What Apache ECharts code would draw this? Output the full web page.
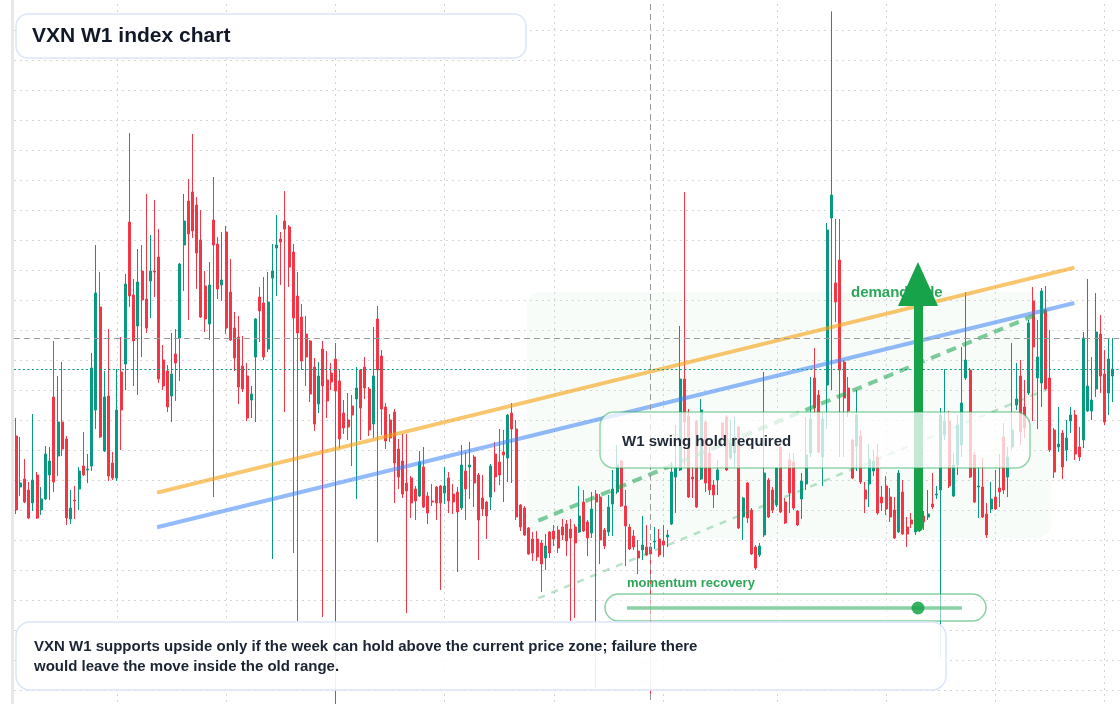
<!DOCTYPE html>
<html>

<head>
  <meta http-equiv="Content-Type" content="text/html; charset=utf-8" />
  <title>VXN W1 index chart</title>
  <script src="https://cdn.jsdelivr.net/npm/echarts@6/dist/echarts.min.js"></script>
  <style>
    html, body { margin: 0; padding: 0; background: #fff; }
    #chart { width: 1120px; height: 704px; }
  </style>
</head>

<body>
  <div id="chart"></div>

  <script type="text/javascript">
    "use strict"

    // weekly candles, first week 2020-07-19
    const firstWeek = Date.UTC(2020, 6, 19)

    const opens = [
      23.2, 20.65, 21.05, 20.5, 19.85, 21.25, 19.5, 20.05, 21.25, 25.15,
      22.2, 23.9, 23.05, 19.05, 20.0, 20.55, 21.7, 21.5, 21.7, 24.5,
      29.65, 22.45, 25.2, 21.85, 21.1, 26.4, 26.8, 33.9, 30.25, 28.7,
      31.45, 30.05, 30.95, 31.45, 32.15, 27.0, 26.45, 25.2, 27.3, 28.1,
      32.75, 34.95, 35.4, 34.75, 33.0, 30.7, 28.8, 34.0, 32.8, 30.75,
      33.4, 30.4, 28.6, 28.15, 26.7, 26.2, 25.0, 27.15, 30.15, 29.85,
      27.55, 31.1, 32.6, 33.05, 33.95, 33.65, 32.4, 30.2, 29.15, 28.3,
      27.95, 26.65, 24.8, 27.55, 26.0, 26.35, 27.05, 25.95, 24.35, 24.0,
      24.7, 25.05, 26.5, 26.65, 25.55, 23.8, 29.05, 27.2, 24.65, 24.0,
      24.4, 22.55, 21.95, 20.85, 21.1, 20.55, 20.2, 21.65, 20.2, 19.95,
      20.65, 20.7, 20.35, 21.1, 20.3, 20.4, 19.6, 21.45, 21.65, 22.15,
      21.25, 20.1, 19.9, 20.15, 22.3, 21.9, 22.4, 22.1, 24.35, 23.55,
      19.75, 19.6, 18.6, 18.05, 18.05, 17.85, 17.1, 18.4, 18.45, 18.5,
      18.65, 18.8, 18.55, 18.65, 18.4, 19.9, 18.9, 18.35, 20.3, 20.15,
      18.5, 18.4, 19.8, 20.4, 21.95, 19.7, 18.65, 18.2, 17.45, 17.5,
      17.65, 17.65, 17.9, 18.05, 17.95, 18.15, 18.8, 21.15, 21.5, 26.05,
      24.2, 21.15, 23.95, 21.05, 23.9, 22.35, 20.75, 21.0, 23.85, 24.15,
      22.1, 22.35, 23.65, 19.15, 20.85, 19.5, 17.65, 17.25, 18.25, 21.0,
      20.5, 19.75, 22.65, 19.9, 22.0, 21.9, 19.45, 20.05, 20.8, 22.35,
      26.1, 25.25, 22.15, 25.75, 34.1, 30.85, 32.0, 26.9, 25.6, 23.0,
      22.7, 23.2, 20.5, 20.8, 21.45, 22.15, 20.15, 20.7, 20.15, 19.5,
      18.4, 20.4, 18.65, 19.0, 18.4, 19.45, 19.2, 19.15, 19.8, 20.25,
      20.5, 23.25, 23.95, 20.2, 21.75, 22.75, 26.1, 26.5, 22.25, 20.65,
      20.65, 19.3, 19.55, 20.15, 20.6, 23.15, 21.15, 22.65, 24.75, 26.2,
      24.65, 25.35, 29.95, 26.1, 25.85, 29.5, 26.1, 23.5, 22.65, 23.35,
      22.5, 23.95, 24.25, 22.65, 23.0, 24.45, 24.45, 25.55, 28.3, 26.3,
      25.35, 26.2
    ]

    const closes = [
      19.5, 20.85, 19.9, 19.1, 21.0, 19.1, 20.05, 22.3, 21.95, 20.9,
      23.9, 22.55, 19.1, 19.6, 19.95, 21.45, 21.25, 21.55, 26.6, 30.35,
      23.15, 25.15, 21.2, 21.1, 24.5, 24.5, 30.8, 30.2, 27.95, 30.9,
      30.0, 28.6, 31.45, 31.4, 26.05, 25.7, 24.65, 26.3, 26.85, 31.8,
      33.95, 33.3, 33.45, 32.35, 29.15, 29.05, 30.75, 32.75, 30.55, 31.0,
      28.6, 28.0, 27.1, 25.65, 25.55, 24.1, 25.3, 29.05, 29.45, 27.15,
      29.9, 31.45, 32.75, 32.9, 33.55, 31.65, 29.1, 28.35, 26.95, 27.15,
      25.3, 23.8, 26.2, 25.7, 24.95, 25.9, 25.45, 23.05, 23.6, 23.65,
      24.25, 25.6, 24.6, 25.6, 23.5, 26.2, 26.5, 24.55, 22.95, 23.1,
      21.85, 21.15, 20.3, 20.45, 19.85, 19.95, 21.9, 19.65, 19.35, 19.9,
      19.85, 19.85, 20.7, 19.95, 19.9, 19.4, 21.75, 20.55, 21.75, 20.85,
      19.0, 19.55, 19.2, 21.7, 21.15, 21.25, 22.25, 24.25, 23.55, 19.15,
      18.65, 18.25, 17.3, 17.35, 17.15, 16.8, 17.7, 17.35, 18.05, 17.6,
      18.25, 17.95, 18.1, 17.85, 19.2, 18.45, 18.1, 19.55, 19.9, 18.0,
      17.7, 19.65, 20.55, 21.75, 19.7, 18.7, 17.55, 17.65, 17.1, 17.75,
      17.25, 17.3, 17.95, 17.25, 17.75, 18.25, 21.4, 21.65, 26.05, 23.9,
      20.15, 21.05, 19.65, 24.5, 20.85, 20.5, 20.25, 21.5, 23.15, 21.5,
      22.85, 23.15, 18.6, 20.1, 19.1, 17.3, 16.6, 17.7, 21.35, 19.15,
      19.5, 21.6, 19.4, 18.85, 20.35, 19.6, 18.75, 20.95, 22.25, 24.05,
      24.6, 22.4, 24.05, 33.5, 35.25, 29.9, 26.5, 25.1, 24.45, 21.1,
      24.25, 20.9, 20.05, 22.05, 21.95, 19.35, 19.85, 19.55, 19.15, 18.1,
      21.35, 18.3, 18.3, 18.8, 19.0, 18.5, 18.9, 19.3, 19.65, 20.3,
      24.25, 23.95, 20.7, 21.75, 23.75, 24.85, 27.0, 21.15, 19.9, 20.7,
      19.15, 18.25, 20.05, 19.55, 20.4, 20.5, 22.15, 23.5, 25.05, 23.4,
      23.6, 28.85, 27.65, 27.15, 30.45, 25.55, 22.5, 21.4, 22.8, 21.65,
      23.1, 24.25, 22.3, 22.15, 28.1, 25.7, 25.0, 28.4, 26.2, 23.9,
      27.05, 26.55
    ]

    const lows = [
      19.3, 20.2, 19.85, 19.05, 19.45, 19.05, 19.25, 20.0, 20.0, 20.4,
      21.2, 22.2, 18.75, 18.8, 19.05, 19.5, 21.2, 20.85, 21.45, 23.55,
      23.1, 22.4, 20.95, 21.0, 20.95, 22.5, 25.5, 29.65, 25.7, 25.25,
      27.15, 28.35, 29.1, 30.15, 25.85, 25.5, 24.4, 23.9, 24.95, 25.95,
      30.45, 29.0, 33.1, 30.55, 29.1, 28.4, 28.0, 20.15, 30.05, 29.95,
      28.3, 27.95, 26.45, 24.8, 25.4, 23.95, 24.1, 23.9, 27.9, 27.0,
      27.4, 17.05, 30.2, 30.75, 24.4, 30.65, 17.35, 13.95, 26.5, 25.7,
      24.9, 23.45, 24.35, 14.15, 24.1, 25.5, 9.4, 22.6, 23.3, 23.0,
      21.7, 20.05, 23.0, 25.05, 23.2, 23.1, 17.9, 23.25, 22.55, 22.9,
      19.85, 20.55, 20.1, 14.35, 19.1, 19.0, 20.15, 19.6, 18.8, 19.7,
      19.0, 15.5, 19.8, 19.35, 19.3, 16.4, 19.5, 19.0, 20.05, 19.65,
      17.0, 19.2, 18.05, 19.5, 20.4, 20.75, 19.9, 20.9, 20.85, 19.0,
      18.45, 18.2, 17.25, 16.95, 16.95, 15.4, 16.5, 17.1, 17.7, 17.35,
      18.0, 17.2, 13.95, 14.1, 18.35, 18.4, 17.2, 18.1, 10.6, 16.8,
      17.55, 18.2, 18.2, 20.3, 19.65, 16.7, 17.5, 17.5, 16.3, 17.0,
      17.2, 10.15, 17.55, 17.15, 17.15, 17.65, 18.75, 19.35, 21.45, 21.65,
      20.1, 20.1, 19.6, 21.0, 20.4, 20.25, 19.6, 20.25, 22.65, 21.45,
      22.0, 21.65, 18.55, 18.0, 18.85, 17.25, 16.5, 17.15, 18.15, 19.1,
      19.35, 19.65, 19.35, 18.8, 19.35, 19.5, 18.7, 19.05, 20.5, 22.15,
      24.35, 22.35, 20.7, 23.55, 25.5, 28.9, 22.15, 22.15, 24.15, 21.05,
      21.45, 20.8, 19.35, 19.65, 21.2, 19.25, 19.45, 19.25, 18.9, 18.05,
      18.35, 18.25, 17.65, 18.6, 18.25, 18.4, 18.5, 19.0, 19.55, 20.05,
      12.1, 23.0, 20.6, 20.15, 21.25, 22.15, 26.0, 21.1, 19.85, 19.1,
      19.1, 18.1, 19.35, 19.5, 19.65, 20.3, 20.15, 22.5, 24.5, 22.75,
      23.1, 25.25, 23.95, 23.55, 24.65, 25.5, 22.4, 21.1, 22.4, 21.05,
      21.95, 23.35, 22.0, 21.95, 22.6, 24.4, 24.0, 25.15, 25.35, 23.75,
      24.25, 24.9
    ]

    const highs = [
      24.1, 23.15, 22.05, 20.9, 24.3, 21.4, 20.65, 22.7, 22.65, 27.95,
      26.2, 26.9, 23.2, 20.5, 20.7, 21.65, 23.4, 22.3, 27.35, 32.75,
      31.4, 26.45, 28.55, 22.4, 26.55, 28.15, 31.3, 38.35, 31.05, 32.55,
      32.75, 35.3, 33.25, 35.0, 33.55, 27.75, 26.75, 28.35, 28.55, 31.85,
      35.3, 36.05, 38.3, 35.15, 34.5, 31.45, 31.9, 36.15, 33.15, 33.4,
      33.7, 32.05, 29.4, 29.2, 28.2, 26.85, 25.7, 29.1, 30.65, 31.15,
      31.4, 32.8, 34.25, 33.4, 35.45, 33.75, 32.8, 31.4, 29.8, 29.2,
      28.0, 27.1, 26.9, 27.95, 27.45, 26.85, 27.85, 26.5, 25.0, 25.35,
      25.25, 26.65, 26.55, 27.15, 25.65, 28.65, 29.7, 27.5, 24.85, 24.3,
      24.55, 23.05, 23.3, 23.3, 21.2, 20.7, 22.45, 22.65, 20.4, 20.8,
      20.7, 20.75, 21.65, 21.4, 20.8, 20.65, 22.75, 22.4, 22.9, 22.25,
      21.35, 21.25, 19.95, 21.8, 22.9, 23.55, 23.5, 24.3, 24.85, 24.0,
      19.8, 19.7, 18.65, 18.4, 18.45, 18.0, 18.3, 18.45, 18.75, 18.7,
      19.05, 19.0, 19.05, 18.8, 20.7, 20.5, 19.0, 20.4, 20.5, 20.3,
      18.6, 20.25, 21.5, 22.75, 22.0, 20.5, 18.8, 18.5, 18.0, 19.2,
      18.75, 17.85, 18.65, 18.55, 18.75, 18.5, 21.9, 23.75, 28.7, 35.4,
      24.55, 21.65, 24.0, 25.05, 24.0, 22.65, 21.0, 22.0, 23.9, 24.25,
      24.0, 24.15, 23.7, 20.15, 20.9, 19.6, 17.75, 17.85, 26.4, 21.1,
      20.65, 21.65, 22.7, 20.1, 22.35, 22.35, 19.5, 21.35, 24.15, 26.15,
      27.6, 25.5, 24.35, 33.85, 44.43, 34.05, 34.05, 27.0, 26.15, 23.05,
      25.5, 23.5, 20.9, 22.8, 22.5, 22.8, 20.7, 21.2, 20.6, 20.15,
      21.5, 21.0, 19.15, 19.35, 19.5, 19.75, 19.45, 20.5, 21.35, 20.7,
      24.6, 26.55, 24.45, 22.35, 24.25, 27.65, 30.4, 26.6, 22.4, 21.65,
      22.1, 19.85, 20.9, 21.5, 22.3, 23.85, 22.65, 27.85, 26.85, 27.0,
      26.0, 29.0, 30.65, 29.0, 30.6, 30.7, 28.5, 23.6, 24.65, 23.5,
      24.0, 24.65, 24.5, 23.65, 28.4, 31.05, 27.15, 30.35, 29.25, 27.5,
      28.1, 28.1
    ]

    // drawn levels, [week index, value]
    const upperTrend = [[33.57, 20.37], [251.8, 31.62]]
    const lowerTrend = [[33.57, 18.64], [251.8, 29.85]]
    const channelTop = [[124.27, 18.97], [245.06, 29.47]]
    const channelBottom = [[124.27, 15.09], [245.06, 25.51]]
    const demandArrow = [[214.6, 18.65], [214.6, 30.8]]
    const crossWeek = 151
    const crossLevel = 28.1

    const weeks = opens.map((_, i) => new Date(firstWeek + i * 7 * 86400000))
    // first week of every half year gets a vertical grid line
    const halfYearStarts = []
    weeks.forEach((d, i) => {
      if (i > 0 && d.getUTCMonth() % 6 === 0 && weeks[i - 1].getUTCMonth() !== d.getUTCMonth()) {
        halfYearStarts.push(i)
      }
    })

    const candles = opens.map((o, i) => [i, o, closes[i], lows[i], highs[i]])
    const lastClose = closes[closes.length - 1]

    const font = '"Liberation Sans", Arial, Helvetica, sans-serif'
    const up = "#089981"
    const down = "#f23645"
    const green = "#16a34a"

    function seg(points, lineStyle) {
      return [{ coord: points[0], lineStyle: lineStyle }, { coord: points[1] }]
    }

    function markOnly(z, data, extra) {
      return {
        type: "line",
        data: [],
        silent: true,
        markLine: Object.assign({
          z: z,
          silent: true,
          symbol: ["none", "none"],
          label: { show: false },
          emphasis: { disabled: true },
          data: data
        }, extra || {})
      }
    }

    const myChart = echarts.init(document.getElementById("chart"))

    const option = {
      animation: false,
      grid: { left: 13.9, right: 0.7, top: 0, height: 720, containLabel: false, outerBoundsMode: "none" },
      xAxis: {
        type: "value",
        min: -0.5,
        max: opens.length + 0.5,
        axisLine: { show: false },
        axisTick: { show: false },
        axisLabel: { show: false },
        splitLine: { show: false }
      },
      yAxis: {
        type: "value",
        min: 9,
        max: 45,
        interval: 1.5,
        offset: 2,
        axisLine: { show: true, onZero: false, lineStyle: { color: "#e8e8e8", width: 3 } },
        axisTick: { show: false },
        axisLabel: { show: false },
        splitLine: {
          show: true,
          showMinLine: false,
          showMaxLine: false,
          lineStyle: { color: "#d4d4d4", width: 1, type: [2, 4] }
        }
      },
      series: [
        markOnly(1, halfYearStarts.map(i => ({ xAxis: i })), {
          lineStyle: { color: "#d4d4d4", width: 1, type: [2, 4] }
        }),
        {
          name: "VXN",
          type: "candlestick",
          z: 2,
          barWidth: 2.5,
          silent: true,
          itemStyle: {
            color: up,
            color0: down,
            borderColor: up,
            borderColor0: down,
            borderWidth: 1
          },
          data: candles
        },
        markOnly(3, [
          seg(upperTrend, { color: "rgba(245,158,11,0.6)", width: 4, type: "solid" }),
          seg(lowerTrend, { color: "rgba(59,130,246,0.55)", width: 4, type: "solid" }),
          seg(channelTop, { color: "rgba(22,163,74,0.55)", width: 4, type: [10, 7] }),
          seg(channelBottom, { color: "rgba(22,163,74,0.3)", width: 2.5, type: [7, 7] })
        ]),
        markOnly(4, [
          { xAxis: crossWeek, lineStyle: { color: "#9a9a9a", width: 1, type: [6, 4] } },
          { yAxis: crossLevel, lineStyle: { color: "#9a9a9a", width: 1, type: [6, 4] } },
          { yAxis: lastClose, lineStyle: { color: up, width: 1, type: [2, 2.5] } }
        ]),
        markOnly(6, [
          seg(demandArrow, { color: green, width: 9, type: "solid", cap: "round" })
        ], { symbol: ["none", "triangle"], symbolSize: [40, 44] })
      ],
      graphic: [
        {
          type: "rect", z: 0, silent: true,
          shape: { x: 527, y: 292, width: 524, height: 246, r: 14 },
          style: { fill: "rgba(22,163,74,0.035)" }
        },
        {
          type: "text", z: 5, silent: true,
          style: { text: "demand side", x: 851, y: 293, verticalAlign: "middle", font: "bold 15px " + font, fill: "#2ea65a" }
        },
        {
          type: "rect", z: 100, silent: true,
          shape: { x: 600, y: 412, width: 430, height: 56, r: 14 },
          style: { fill: "rgba(255,255,255,0.75)", stroke: "rgba(22,163,74,0.45)", lineWidth: 1.5 }
        },
        {
          type: "text", z: 101, silent: true,
          style: { text: "W1 swing hold required", x: 622, y: 442, verticalAlign: "middle", font: "bold 15px " + font, fill: "#1f2937" }
        },
        {
          type: "text", z: 101, silent: true,
          style: { text: "momentum recovery", x: 627, y: 583, verticalAlign: "middle", font: "bold 13px " + font, fill: "#2ea65a" }
        },
        {
          type: "rect", z: 100, silent: true,
          shape: { x: 605, y: 594, width: 381, height: 27, r: 13.5 },
          style: { fill: "rgba(255,255,255,0.55)", stroke: "rgba(22,163,74,0.5)", lineWidth: 1.5 }
        },
        {
          type: "line", z: 101, silent: true,
          shape: { x1: 627, y1: 608, x2: 962, y2: 608 },
          style: { stroke: "rgba(22,163,74,0.5)", lineWidth: 3.5 }
        },
        {
          type: "circle", z: 102, silent: true,
          shape: { cx: 918, cy: 608, r: 6.5 },
          style: { fill: "rgba(22,163,74,0.85)" }
        },
        {
          type: "rect", z: 100, silent: true,
          shape: { x: 16, y: 14, width: 510, height: 44, r: 12 },
          style: { fill: "rgba(255,255,255,0.94)", stroke: "#dbe6fa", lineWidth: 1.5 }
        },
        {
          type: "text", z: 101, silent: true,
          style: { text: "VXN W1 index chart", x: 32, y: 36, verticalAlign: "middle", font: "bold 21px " + font, fill: "#111827" }
        },
        {
          type: "rect", z: 100, silent: true,
          shape: { x: 16, y: 622, width: 930, height: 68, r: 14 },
          style: { fill: "rgba(255,255,255,0.9)", stroke: "#dbe6fa", lineWidth: 1.5 }
        },
        {
          type: "text", z: 101, silent: true,
          style: {
            text: "VXN W1 supports upside only if the week can hold above the current price zone; failure there\nwould leave the move inside the old range.",
            x: 34, y: 637, verticalAlign: "top", lineHeight: 20,
            font: "bold 15px " + font, fill: "#1a2433"
          }
        }
      ]
    }

    myChart.setOption(option, true)
  </script>
</body>

</html>
